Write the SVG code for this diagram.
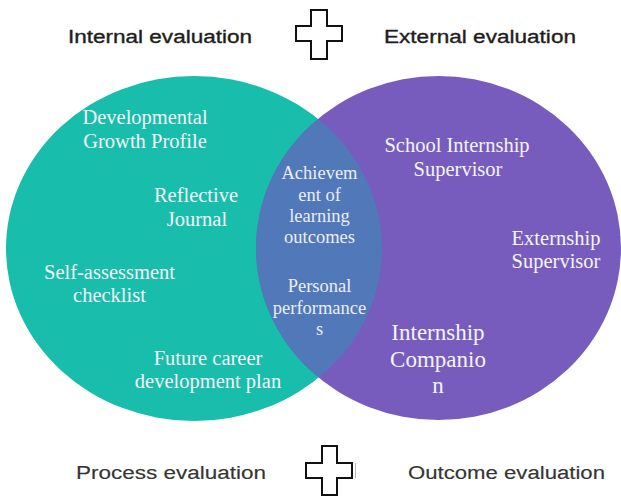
<svg xmlns="http://www.w3.org/2000/svg" width="621" height="497" viewBox="0 0 621 497">
  <style>
    .hdr { font-family: "Liberation Sans", Arial, sans-serif; font-size: 18px; fill: #1e1e1e; stroke: #1e1e1e; stroke-width: 0.35px; }
    .hdr2 { font-family: "Liberation Sans", Arial, sans-serif; font-size: 18px; fill: #353535; stroke: #353535; stroke-width: 0.15px; }
    .lbl { font-family: "Liberation Serif", "Times New Roman", serif; font-size: 20.5px; fill: #f4f4f6; text-anchor: middle; }
    .mid { font-family: "Liberation Serif", "Times New Roman", serif; font-size: 18.5px; fill: #eceef6; text-anchor: middle; }
    .big { font-family: "Liberation Serif", "Times New Roman", serif; font-size: 23px; fill: #f4f4f8; text-anchor: middle; }
    .plus { fill: #ffffff; stroke: #111111; stroke-width: 2; stroke-linejoin: miter; }
  </style>
  <defs>
    <clipPath id="rightClip">
      <ellipse cx="438.5" cy="248" rx="182.5" ry="172"/>
    </clipPath>
  </defs>
  <rect width="621" height="497" fill="#ffffff"/>

  <g id="venn">
    <ellipse id="internal-circle" cx="194" cy="248.5" rx="188" ry="172.5" fill="#18BDAC"/>
    <ellipse id="external-circle" cx="438.5" cy="248" rx="182.5" ry="172" fill="#775CBE"/>
    <ellipse id="overlap" cx="194" cy="248.5" rx="188" ry="172.5" fill="#5178B8" clip-path="url(#rightClip)"/>
  </g>

  <g id="headers">
    <text class="hdr" x="68" y="43" textLength="184" lengthAdjust="spacingAndGlyphs">Internal evaluation</text>
    <text class="hdr" x="384" y="43" textLength="192" lengthAdjust="spacingAndGlyphs">External evaluation</text>
    <text class="hdr2" x="76" y="479" textLength="190" lengthAdjust="spacingAndGlyphs">Process evaluation</text>
    <text class="hdr2" x="408" y="479" textLength="197" lengthAdjust="spacingAndGlyphs">Outcome evaluation</text>
  </g>

  <g id="plus-top">
    <path class="plus" d="M311,10 H327 V26 H342 V41 H327 V59 H311 V41 H296 V26 H311 Z"/>
  </g>
  <g id="plus-bottom">
    <path class="plus" d="M322,446 H337 V463 H352 V478 H337 V495 H322 V478 H306 V463 H322 Z"/>
    <line x1="355.5" y1="463" x2="355.5" y2="478" stroke="#bbbbbb" stroke-width="1"/>
  </g>

  <g id="node-developmental-growth-profile">
    <text class="lbl" x="145" y="124">Developmental</text>
    <text class="lbl" x="145" y="148">Growth Profile</text>
  </g>
  <g id="node-reflective-journal">
    <text class="lbl" x="196" y="202">Reflective</text>
    <text class="lbl" x="197" y="226">Journal</text>
  </g>
  <g id="node-self-assessment-checklist">
    <text class="lbl" x="109.5" y="279">Self-assessment</text>
    <text class="lbl" x="109.5" y="302">checklist</text>
  </g>
  <g id="node-future-career-plan">
    <text class="lbl" x="208" y="365">Future career</text>
    <text class="lbl" x="208" y="388">development plan</text>
  </g>

  <g id="node-achievement-learning-outcomes">
    <text class="mid" x="319.5" y="179">Achievem</text>
    <text class="mid" x="319.5" y="201">ent of</text>
    <text class="mid" x="319.5" y="222">learning</text>
    <text class="mid" x="319.5" y="243">outcomes</text>
  </g>
  <g id="node-personal-performances">
    <text class="mid" x="319.5" y="292">Personal</text>
    <text class="mid" x="319.5" y="314">performance</text>
    <text class="mid" x="319.5" y="335">s</text>
  </g>

  <g id="node-school-internship-supervisor">
    <text class="lbl" x="457" y="152">School Internship</text>
    <text class="lbl" x="458" y="176">Supervisor</text>
  </g>
  <g id="node-externship-supervisor">
    <text class="lbl" x="556" y="245">Externship</text>
    <text class="lbl" x="556" y="268">Supervisor</text>
  </g>
  <g id="node-internship-companion">
    <text class="big" x="438" y="340">Internship</text>
    <text class="big" x="438" y="367">Companio</text>
    <text class="big" x="438" y="393">n</text>
  </g>

  <g id="connectors"/>
</svg>
